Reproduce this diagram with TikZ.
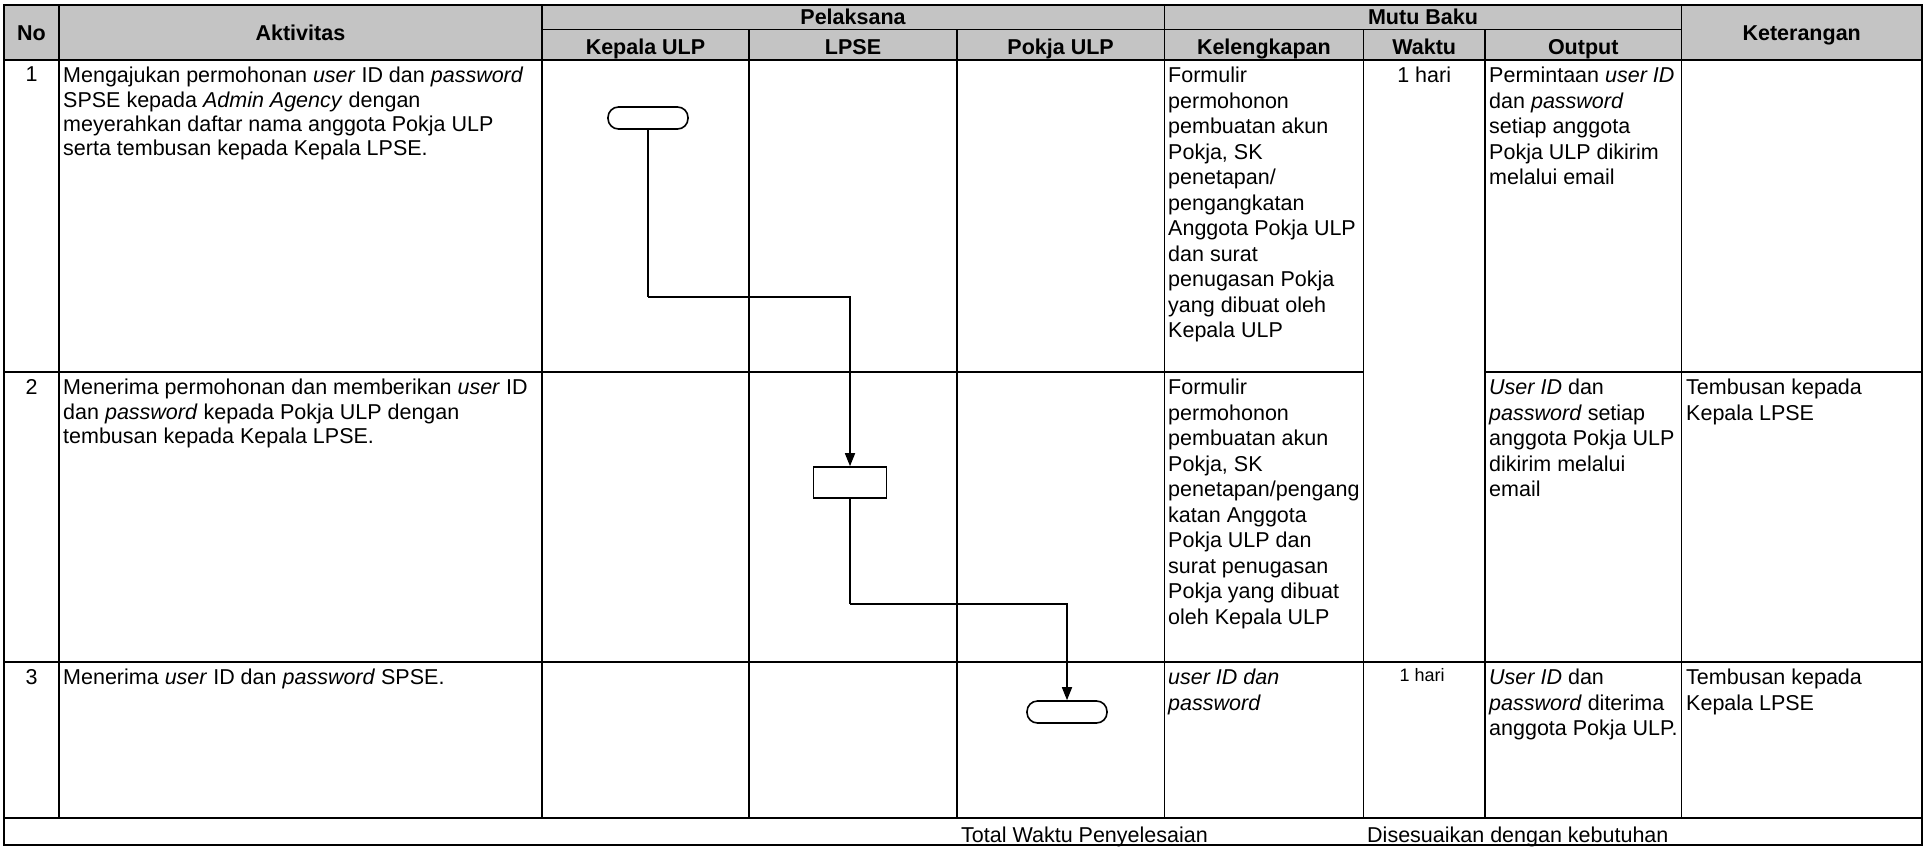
\documentclass[tikz,border=0pt]{standalone}
\usepackage{fontspec}
\setmainfont{Liberation Sans}
\usetikzlibrary{arrows.meta}
\definecolor{hdgray}{RGB}{196,196,196}
\newcommand{\fs}{\fontsize{21.5}{25.5}\selectfont}
\newcommand{\fsa}{\fontsize{21.5}{24.4}\selectfont}
\newcommand{\fss}{\fontsize{18}{22}\selectfont}
\begin{document}
\begin{tikzpicture}[x=1pt,y=-1pt,
  grid/.style={line width=1.8pt},
  hd/.style={font=\fs\bfseries,inner sep=0pt,anchor=base},
  cell/.style={anchor=north west,inner sep=0pt,align=left,font=\fs},
  acell/.style={anchor=north west,inner sep=0pt,align=left,font=\fsa},
  num/.style={anchor=north,inner sep=0pt,font=\fs},
  foot/.style={anchor=base west,inner sep=0pt,font=\fs},
  terminal/.style={draw,line width=1.6pt,rectangle,rounded corners=10.5pt,minimum width=80pt,minimum height=22pt,inner sep=0pt},
  process/.style={draw,line width=1.6pt,rectangle,minimum width=73pt,minimum height=31pt,inner sep=0pt},
  flow/.style={line width=1.6pt},
  flowarrow/.style={line width=1.6pt,-{Triangle[length=13pt,width=10pt]}}]
\useasboundingbox (0,0) rectangle (1926,846);
\fill[white] (0,0) rectangle (1926,846);
% header background
\fill[hdgray] (4,5) rectangle (1922,60);
% grid
\draw[grid] (4,5) rectangle (1922,845);
\draw[grid] (541.7,29.5) -- (1681.5,29.5);
\draw[grid] (4,60) -- (1922,60);
\foreach \x in {59,541.7,1164.4,1681.5} \draw[grid] (\x,5) -- (\x,818);
\foreach \x in {749.3,956.9,1363.4,1485} \draw[grid] (\x,29.5) -- (\x,818);
\draw[grid] (4,372) -- (1363.4,372);
\draw[grid] (1485,372) -- (1922,372);
\draw[grid] (4,662) -- (1922,662);
\draw[grid] (4,818) -- (1922,818);
% header texts
\node[hd] (hNo) at (31.5,40.7) {No};
\node[hd] (hAkt) at (300.4,40.7) {Aktivitas};
\node[hd] (hPel) at (853,24.5) {Pelaksana};
\node[hd] (hMutu) at (1423,24.5) {Mutu Baku};
\node[hd] (hKep) at (645.5,54) {Kepala ULP};
\node[hd] (hLpse) at (853,54) {LPSE};
\node[hd] (hPokja) at (1060.6,54) {Pokja ULP};
\node[hd] (hKel) at (1263.9,54) {Kelengkapan};
\node[hd] (hWak) at (1424.2,54) {Waktu};
\node[hd] (hOut) at (1583.2,54) {Output};
\node[hd] (hKet) at (1801.7,40.7) {Keterangan};
% row 1
\node[num] (n1) at (31.5,67) {1};
\node[acell] (a1) at (63,67) {Mengajukan permohonan \textit{user} ID dan \textit{password}\\SPSE kepada \textit{Admin Agency} dengan\\meyerahkan daftar nama anggota Pokja ULP\\serta tembusan kepada Kepala LPSE.};
\node[cell] (k1) at (1168,67) {Formulir\\permohonon\\pembuatan akun\\Pokja, SK\\penetapan/\\pengangkatan\\Anggota Pokja ULP\\dan surat\\penugasan Pokja\\yang dibuat oleh\\Kepala ULP};
\node[num] (w1) at (1424.2,67) {1 hari};
\node[cell] (o1) at (1489,67) {Permintaan \textit{user ID}\\dan \textit{password}\\setiap anggota\\Pokja ULP dikirim\\melalui email};
% row 2
\node[num] (n2) at (31.5,379) {2};
\node[acell] (a2) at (63,379) {Menerima permohonan dan memberikan \textit{user} ID\\dan \textit{password} kepada Pokja ULP dengan\\tembusan kepada Kepala LPSE.};
\node[cell] (k2) at (1168,379) {Formulir\\permohonon\\pembuatan akun\\Pokja, SK\\penetapan/pengang\\katan Anggota\\Pokja ULP dan\\surat penugasan\\Pokja yang dibuat\\oleh Kepala ULP};
\node[cell] (o2) at (1489,379) {\textit{User ID} dan\\\textit{password} setiap\\anggota Pokja ULP\\dikirim melalui\\email};
\node[cell] (t2) at (1686,379) {Tembusan kepada\\Kepala LPSE};
% row 3
\node[num] (n3) at (31.5,669) {3};
\node[acell] (a3) at (63,669) {Menerima \textit{user} ID dan \textit{password} SPSE.};
\node[cell] (k3) at (1168,669) {\textit{user ID dan}\\\textit{password}};
\node[num,font=\fss] (w3) at (1422,668) {1 hari};
\node[cell] (o3) at (1489,669) {\textit{User ID} dan\\\textit{password} diterima\\anggota Pokja ULP.};
\node[cell] (t3) at (1686,669) {Tembusan kepada\\Kepala LPSE};
% footer
\node[foot] (fTot) at (961,842) {Total Waktu Penyelesaian};
\node[foot] (fDis) at (1367,842) {Disesuaikan dengan kebutuhan};
% flow
\node[terminal] (start) at (648,118) {};
\node[process] (proc) at (850,482.5) {};
\node[terminal] (end) at (1067,712) {};
\coordinate (b1) at (648,297);
\coordinate (b2) at (850,604);
\draw[flow] (start.south) -- (b1);
\draw[flowarrow] (b1) -| (proc.north);
\draw[flow] (proc.south) -- (b2);
\draw[flowarrow] (b2) -| (end.north);
\end{tikzpicture}
\end{document}
